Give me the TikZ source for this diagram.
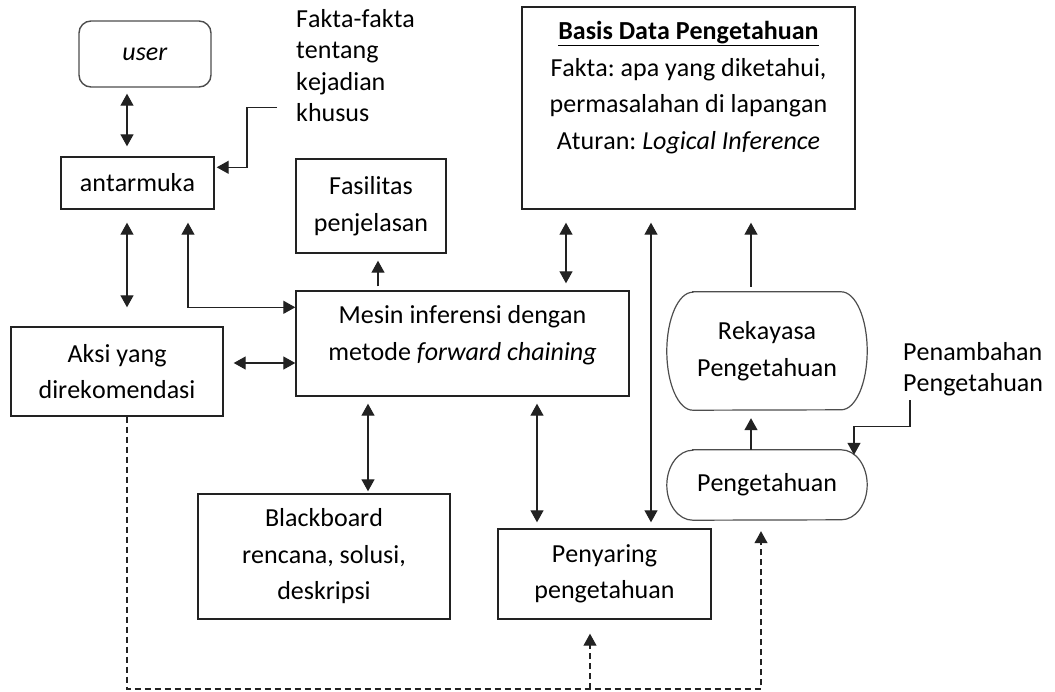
\documentclass[tikz,border=0pt]{standalone}
\usepackage{fontspec}
\setmainfont{Carlito}[Kerning=Off]
\usepackage{tikz}
\usetikzlibrary{arrows.meta, positioning, calc}
\definecolor{cLine}{HTML}{222222}
\definecolor{cSoft}{HTML}{4D4D4D}
\frenchspacing
% barrel outline round a node: node, x radius, y radius
\newcommand{\barrel}[3]{%
  \draw[draw=cSoft, line width=1.2pt]
    ([xshift=#2]#1.north west) -- ([xshift=-#2]#1.north east)
    arc[start angle=90, end angle=-90, x radius=#2, y radius=#3]
    -- ([xshift=#2]#1.south west)
    arc[start angle=270, end angle=90, x radius=#2, y radius=#3] -- cycle;}

\begin{document}
\begin{tikzpicture}[
    x=1pt, y=-1pt,
    box/.style={draw=cLine, line width=1.4pt, align=center, inner sep=0pt,
                font=\fontsize{26}{36.5}\selectfont},
    txt/.style={inner sep=0pt, align=center, font=\fontsize{26}{36.5}\selectfont},
    note/.style={inner sep=0pt, align=left, font=\fontsize{26}{31.5}\selectfont},
    arr/.style={-{Triangle[length=12pt, width=13pt]}, line width=1.3pt, draw=cLine},
    dbl/.style={{Triangle[length=12pt, width=13pt]}-{Triangle[length=12pt, width=13pt]},
                line width=1.3pt, draw=cLine},
    dasharr/.style={arr, dash pattern=on 6pt off 4pt, line width=1.1pt},
  ]
  \useasboundingbox (0,0) rectangle (1055,691);

  % ── LEFT COLUMN ──
  \node[box, rounded corners=12pt, draw=cSoft, minimum width=132pt, minimum height=66pt]
    (user) at (145,54) {\textit{user}};
  \node[box, minimum width=153pt, minimum height=52pt] (antarmuka) at (137.5,183) {antarmuka};
  \node[note, anchor=north west] (fakta) at (296,9) {Fakta-fakta\\tentang\\kejadian\\khusus};
  \node[box, minimum width=212pt, minimum height=89pt] (aksi) at (117,371.5) {Aksi yang\\direkomendasi};

  % ── MIDDLE ──
  \node[box, minimum width=150pt, minimum height=94pt] (fasilitas) at (371,206) {Fasilitas\\penjelasan};
  \node[box, minimum width=333pt, minimum height=105pt] (mesin) at (462.5,343.5) {};
  \node[txt, below=15pt of mesin.north] (mesintxt)
    {Mesin inferensi dengan\\metode \textit{forward chaining}};
  \node[box, minimum width=252pt, minimum height=125pt] (blackboard) at (324,556.5)
    {Blackboard\\rencana, solusi,\\deskripsi};
  \node[box, minimum width=213pt, minimum height=90pt] (penyaring) at (604.5,574)
    {Penyaring\\pengetahuan};

  % ── KNOWLEDGE BASE ──
  \node[box, minimum width=333pt, minimum height=202pt] (basis) at (688.5,108) {};
  \node[txt, below=15pt of basis.north] (basistxt)
    {\underline{\textbf{Basis Data Pengetahuan}}\\Fakta: apa yang diketahui,\\
     permasalahan di lapangan\\Aturan: \textit{Logical Inference}};
  \node[txt, minimum width=200pt, minimum height=118pt] (rekayasa) at (767,351) {Rekayasa\\Pengetahuan};
  \node[txt, minimum width=200pt, minimum height=70pt] (pengetahuan) at (767,485) {Pengetahuan};
  \barrel{rekayasa}{26pt}{59pt}
  \barrel{pengetahuan}{26pt}{35pt}
  \node[note, anchor=north west] (penambahan) at (903,342) {Penambahan\\Pengetahuan};

  % ── CONNECTORS ──
  \draw[dbl, shorten <=6pt, shorten >=10pt] ([xshift=-18pt]user.south) -- ([xshift=-18pt]user.south |- antarmuka.north);
  \draw[dbl, shorten <=13pt, shorten >=19pt] ([xshift=-10.5pt]antarmuka.south) -- ([xshift=-10.5pt]antarmuka.south |- aksi.north);
  \draw[dbl, shorten <=13pt] ([xshift=50.5pt]antarmuka.south) |- ([yshift=-17pt]mesin.north west);
  \draw[arr] ([xshift=-19pt, yshift=14.5pt]fakta.south west) -- ++(-30,0) |- ([xshift=2pt, yshift=-11pt]antarmuka.north east);
  \draw[arr, shorten <=4pt, shorten >=7pt] ([xshift=7pt]fasilitas.south |- mesin.north) -- ([xshift=7pt]fasilitas.south);
  \draw[dbl, shorten <=10pt] ([yshift=8.5pt]aksi.east) -- ([yshift=8.5pt]aksi.east -| mesin.west);
  \draw[dbl, shorten <=7pt, shorten >=2pt] ([xshift=44pt]blackboard.north |- mesin.south) -- ([xshift=44pt]blackboard.north);
  \draw[dbl, shorten <=7pt, shorten >=6pt] ([xshift=-67.5pt]penyaring.north |- mesin.south) -- ([xshift=-67.5pt]penyaring.north);
  \draw[dbl, shorten <=13pt, shorten >=7pt] ([xshift=103.5pt]mesin.north |- basis.south) -- ([xshift=103.5pt]mesin.north);
  \draw[dbl, shorten <=13pt, shorten >=6pt] ([xshift=46.5pt]penyaring.north |- basis.south) -- ([xshift=46.5pt]penyaring.north);
  \draw[arr, shorten <=5pt, shorten >=13pt] ([xshift=-16pt]rekayasa.north) -- ([xshift=-16pt]rekayasa.north |- basis.south);
  \draw[arr, shorten >=8pt] ([xshift=-16pt]pengetahuan.north) -- ([xshift=-16pt]rekayasa.south);
  \draw[arr] ([xshift=7pt, yshift=-4pt]penambahan.south west) -- ++(0,26) -| ([xshift=87pt, yshift=-5pt]pengetahuan.north);

  % ── DASHED FEEDBACK ──
  \coordinate (dashbase) at (0,689);
  \draw[dasharr, shorten >=11pt] ([xshift=10pt]aksi.south) |- ([xshift=-6pt]pengetahuan.south |- dashbase) -- ([xshift=-6pt]pengetahuan.south);
  \draw[dasharr, shorten >=14pt] ([xshift=-14.5pt]penyaring.south |- dashbase) -- ([xshift=-14.5pt]penyaring.south);
\end{tikzpicture}
\end{document}
